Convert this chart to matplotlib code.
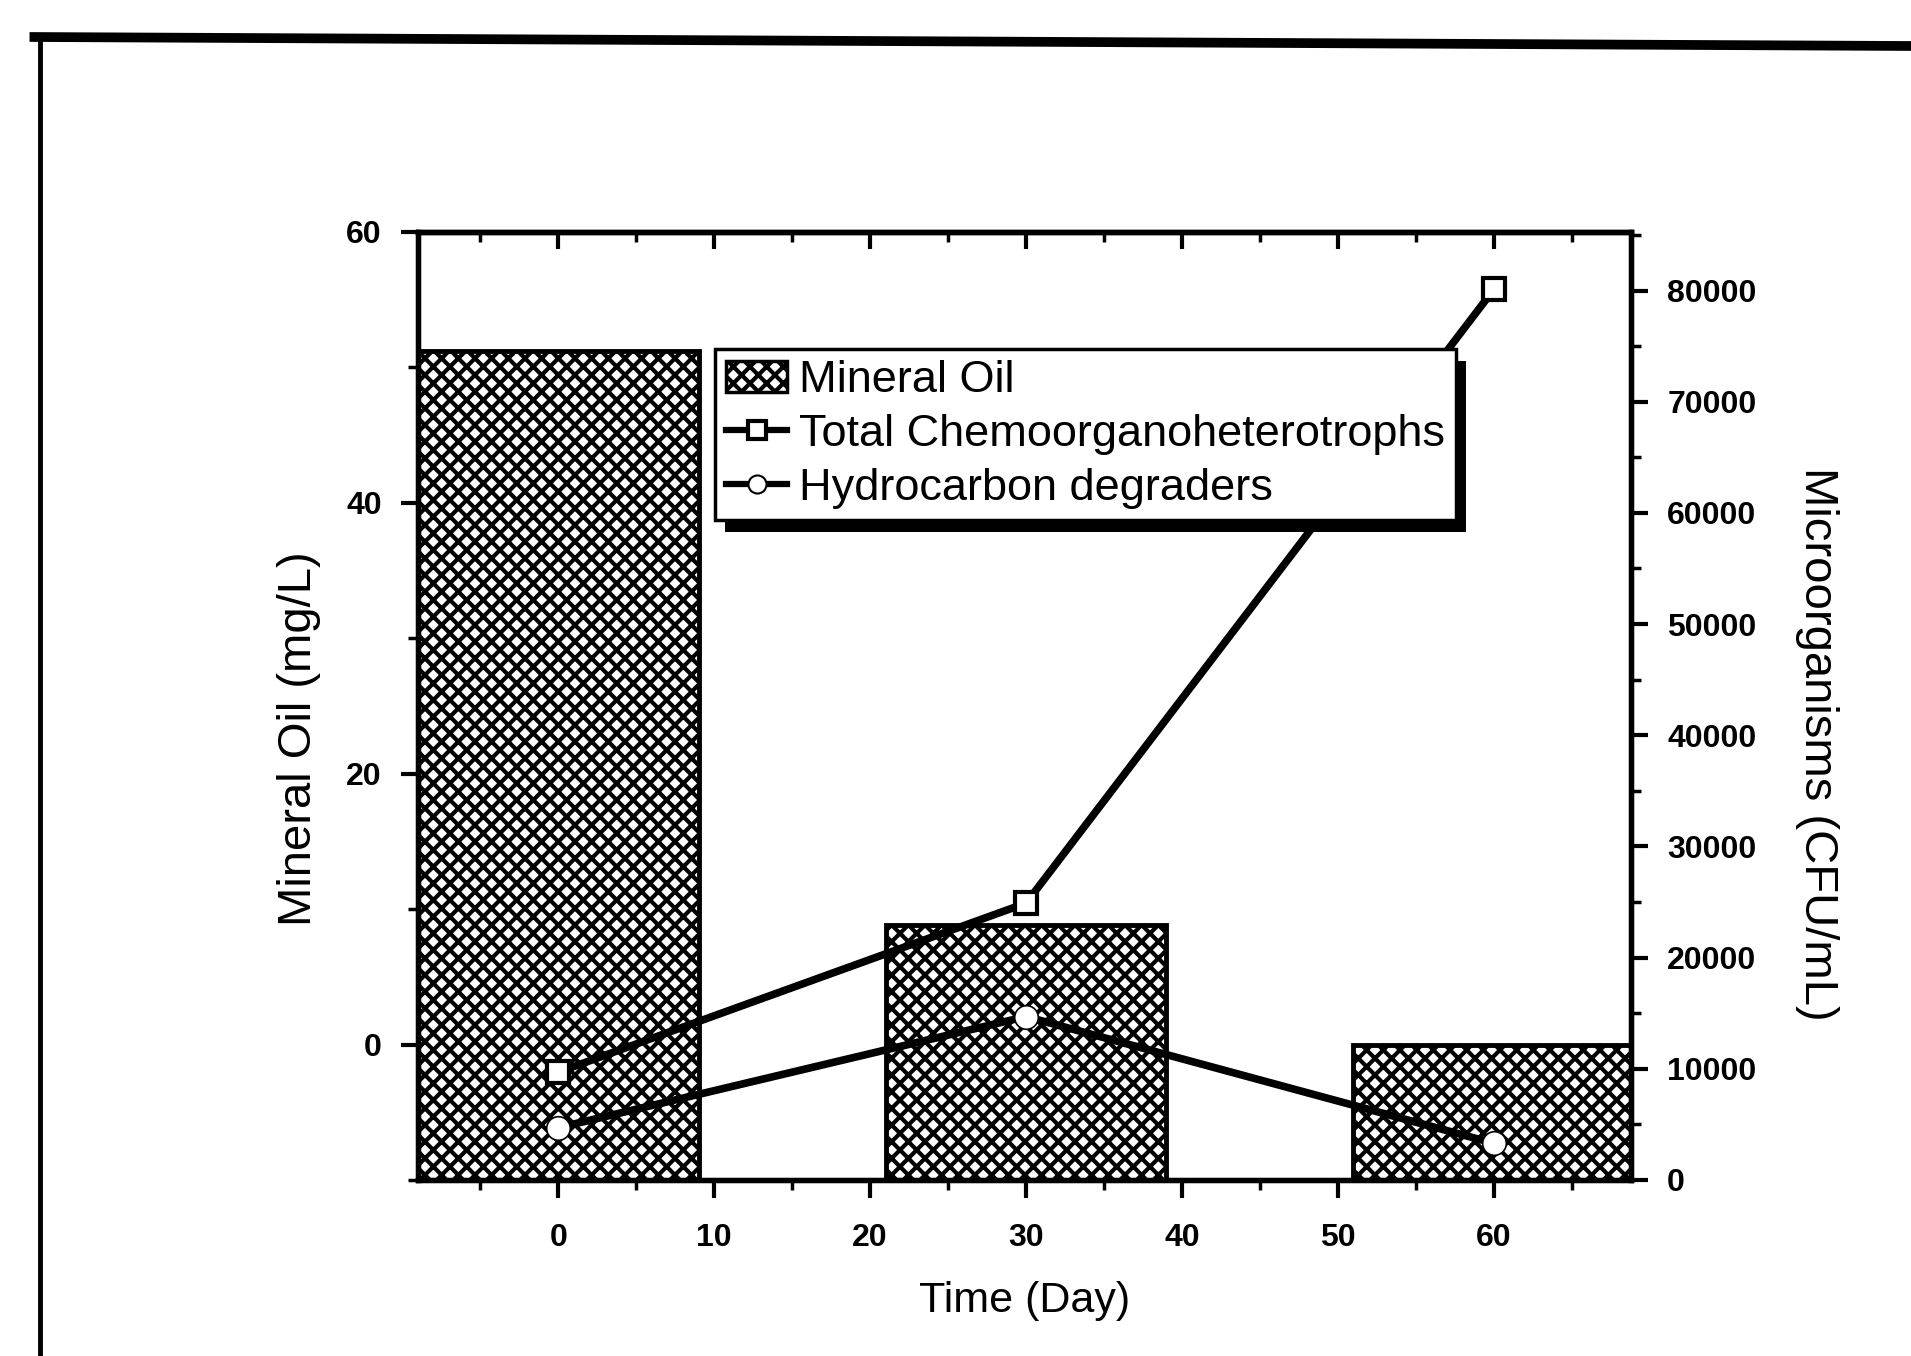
import matplotlib
matplotlib.use("Agg")
import matplotlib.pyplot as plt
from matplotlib.lines import Line2D
from matplotlib.patches import Patch, Rectangle
from matplotlib.ticker import MultipleLocator
from matplotlib.transforms import IdentityTransform
import numpy as np

plt.rcParams['font.family'] = ['Liberation Sans', 'DejaVu Sans']
plt.rcParams['hatch.linewidth'] = 3.0

# data
days = [0, 30, 60]
mineral_oil = [51.2, 8.8, 0.0]            # mg/L
total_chemo = [9700, 24900, 80100]        # CFU/mL
hydro_degraders = [4700, 14700, 3300]     # CFU/mL

fig = plt.figure(figsize=(19.11, 13.56), dpi=100)
ax = fig.add_axes([0.2187, 0.1298, 0.6348, 0.6994])
ax2 = ax.twinx()

# bars start at the bottom of the axis, like the original
ybot = -10
ax.bar(days, np.array(mineral_oil) - ybot, bottom=ybot, width=18,
       facecolor='white', edgecolor='black', hatch='xx', linewidth=3.5)

ax2.plot(days, total_chemo, color='black', lw=5.5, marker='s', ms=16,
         mfc='white', mec='black', mew=3)
ax2.plot(days, hydro_degraders, color='black', lw=5.5, marker='o', ms=17,
         mfc='white', mec='black', mew=1.2)

ax.set_xlim(-9, 68.8)
ax.set_ylim(ybot, 60)
ax2.set_ylim(0, 85300)

ax.xaxis.set_major_locator(MultipleLocator(10))
ax.xaxis.set_minor_locator(MultipleLocator(5))
ax.yaxis.set_major_locator(MultipleLocator(20))
ax.yaxis.set_minor_locator(MultipleLocator(10))
ax2.yaxis.set_major_locator(MultipleLocator(10000))
ax2.yaxis.set_minor_locator(MultipleLocator(5000))

for a in (ax, ax2):
    for s in a.spines.values():
        s.set_linewidth(3.8)

ax.tick_params(axis='x', which='major', direction='out', length=13, width=3,
               labelsize=23, pad=18)
ax.tick_params(axis='x', which='minor', direction='out', length=7, width=2.5)
ax.tick_params(axis='y', which='major', direction='out', length=12, width=3,
               labelsize=23, pad=14)
ax.tick_params(axis='y', which='minor', direction='out', length=7, width=2.5)
ax2.tick_params(axis='y', which='major', direction='out', length=12, width=3,
                labelsize=23, pad=14)
ax2.tick_params(axis='y', which='minor', direction='out', length=7, width=2.5)

top = ax.secondary_xaxis('top')
top.xaxis.set_major_locator(MultipleLocator(10))
top.xaxis.set_minor_locator(MultipleLocator(5))
top.tick_params(which='major', direction='in', length=12, width=3, labeltop=False)
top.tick_params(which='minor', direction='in', length=7, width=2.5)
top.spines['top'].set_linewidth(3.8)

for lab in ax.get_xticklabels() + ax.get_yticklabels() + ax2.get_yticklabels():
    lab.set_fontweight('bold')

ax.set_xlabel('Time (Day)', fontsize=31, labelpad=20)
ax.set_ylabel('Mineral Oil (mg/L)', fontsize=34)
ax2.set_ylabel('Microorganisms (CFU/mL)', fontsize=34, rotation=270, va='center')
ax.yaxis.set_label_coords(-0.08, 0.465)
ax2.yaxis.set_label_coords(1.153, 0.46)

handles = [
    Patch(facecolor='white', edgecolor='black', hatch='xx', linewidth=2.5),
    Line2D([], [], color='black', lw=4.5, marker='s', ms=13, mfc='white', mec='black', mew=3),
    Line2D([], [], color='black', lw=4.5, marker='o', ms=13, mfc='white', mec='black', mew=1.5),
]
labels = ['Mineral Oil', 'Total Chemoorganoheterotrophs', 'Hydrocarbon degraders']
leg = ax2.legend(handles, labels, loc='upper left', bbox_to_anchor=(0.245, 0.876),
                 fontsize=32.5, frameon=True, fancybox=False, framealpha=1,
                 edgecolor='black', borderpad=0.25, labelspacing=0.28,
                 handlelength=1.35, handletextpad=0.25, borderaxespad=0)
leg.get_frame().set_linewidth(2.5)

# shadow under the legend box
fig.canvas.draw()
bb = leg.get_window_extent()
shadow = Rectangle((bb.x0 + 10, bb.y0 - 12), bb.width, bb.height,
                   transform=IdentityTransform(), facecolor='black',
                   edgecolor='none', zorder=leg.get_zorder() - 0.1, clip_on=False)
ax2.add_artist(shadow)

# scanned page frame
fig.add_artist(Line2D([0.018, 1.0], [1 - 37 / 1356, 1 - 46 / 1356],
                      transform=fig.transFigure, color='black', lw=7))
fig.add_artist(Line2D([0.021, 0.021], [1 - 37 / 1356, 0.0],
                      transform=fig.transFigure, color='black', lw=3.5))

fig.savefig('out.png', dpi=100)
